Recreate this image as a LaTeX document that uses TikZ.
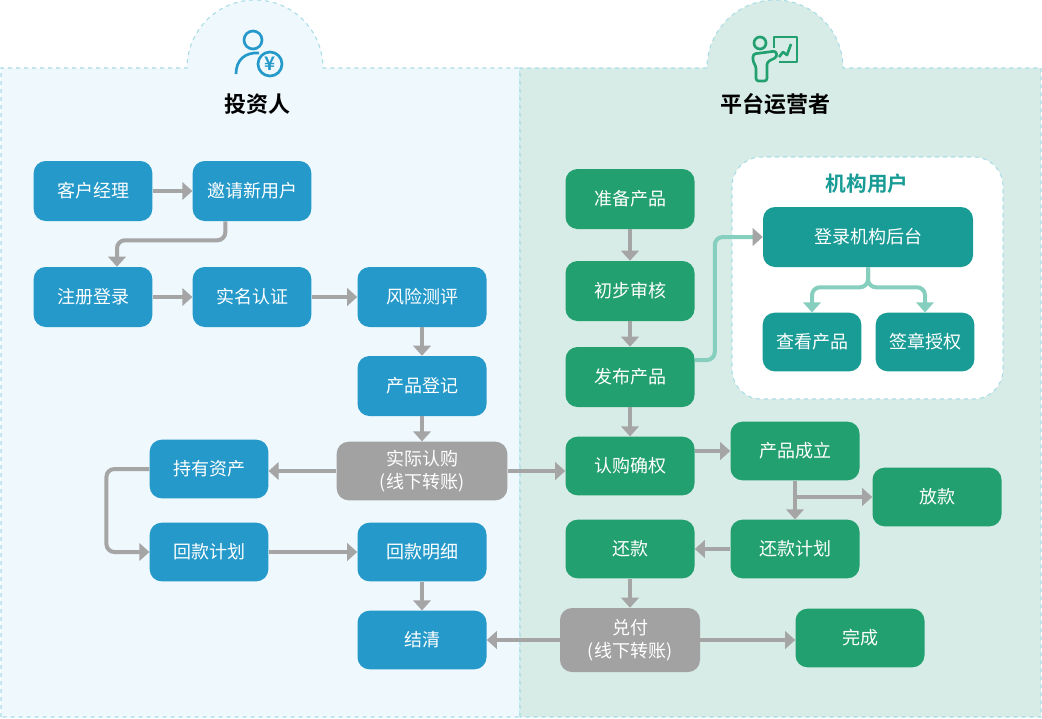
\documentclass[tikz,border=0pt]{standalone}
\usepackage{fontspec}
\setmainfont{Noto Sans CJK SC}[BoldFont=* Bold]
\usetikzlibrary{arrows.meta}
\definecolor{invblue}{HTML}{2499CA}
\definecolor{opgreen}{HTML}{23A070}
\definecolor{orgteal}{HTML}{1A9C96}
\definecolor{offgray}{HTML}{A2A2A2}
\definecolor{arrgray}{HTML}{A5A5A5}
\definecolor{linkteal}{HTML}{86CFBE}
\definecolor{leftbg}{HTML}{EEF8FD}
\definecolor{rightbg}{HTML}{D7ECE6}
\definecolor{panelline}{HTML}{A8DCE6}

\begin{document}
\begin{tikzpicture}[x=0.75pt,y=-0.75pt,
		box/.style={rounded corners=9pt, minimum height=45pt, inner sep=0pt, text=white,
			align=center, font=\fontsize{13.5}{17}\selectfont},
		bluebox/.style={box, fill=invblue, minimum width=96.75pt},
		smallblue/.style={bluebox, minimum width=89pt},
		greenbox/.style={box, fill=opgreen, minimum width=96.75pt},
		tealbox/.style={box, fill=orgteal},
		offline/.style={box, fill=offgray},
		arr/.style={draw=arrgray, line width=3pt, -{Triangle[length=7.5pt,width=13pt]}},
		tealarr/.style={draw=linkteal, line width=3pt, rounded corners=6pt,
			-{Triangle[length=7.5pt,width=13pt]}},
		heading/.style={font=\fontsize{16.5}{20}\selectfont\bfseries}]
	\useasboundingbox (0,0) rectangle (1042,718);
	% panels
	\filldraw[fill=leftbg, draw=panelline, dashed, line width=0.8pt]
		(1,717) -- (1,68) -- (187,68) arc[start angle=180, end angle=360, radius=68]
		-- (520,68) -- (520,717) -- cycle;
	\filldraw[fill=rightbg, draw=panelline, dashed, line width=0.8pt]
		(520,717) -- (520,68) -- (707,68) arc[start angle=180, end angle=360, radius=68]
		-- (1041,68) -- (1041,717) -- cycle;
	\fill[leftbg] (3,70) rectangle (518,715);
	\fill[rightbg] (522,70) rectangle (1039,715);
	\fill[leftbg] (255,68) circle[radius=66];
	\fill[rightbg] (775,68) circle[radius=66];
	\fill[leftbg] (3,70) rectangle (518,140);
	\fill[rightbg] (522,70) rectangle (1039,140);

	% investor icon
	\begin{scope}[draw=invblue, line width=2pt]
		\draw (253,40) circle[radius=9];
		\draw (236,74) .. controls (236,60) and (245,52) .. (259,53);
		\draw (270,64) circle[radius=12];
	\end{scope}
	\node[text=invblue, font=\fontsize{14}{14}\selectfont\bfseries] at (270,64) {¥};
	\node[heading] (inv) at (257,104) {投资人};

	% operator icon
	\begin{scope}[draw=opgreen, line width=2pt, line join=round]
		\draw (760,43) circle[radius=6];
		\draw (774,48) -- (774,37) -- (797,37) -- (797,62) -- (779,62);
		\draw[rounded corners=2pt] (756,81) -- (756,66) -- (753,62) -- (753,54) -- (776,51)
			-- (777,57) -- (767,62) -- (767,81) -- cycle;
		\draw (779,57) -- (783,52) -- (787,55) -- (791,44);
	\end{scope}
	\node[heading] (op) at (775,104) {平台运营者};

	% investor side
	\node[smallblue] (kh) at (93,191) {客户经理};
	\node[smallblue] (yq) at (252,191) {邀请新用户};
	\node[smallblue] (zc) at (93,297) {注册登录};
	\node[smallblue] (sm) at (252,297) {实名认证};
	\node[bluebox] (fx) at (422,297) {风险测评};
	\node[bluebox] (dj) at (422,386) {产品登记};
	\node[offline, minimum width=128pt, minimum height=44pt] (rg) at (422,471) {实际认购\\(线下转账)};
	\node[smallblue, minimum height=44pt] (cy) at (209,469) {持有资产};
	\node[smallblue, minimum height=44pt] (hkjh) at (209,552) {回款计划};
	\node[bluebox, minimum height=44pt] (hkmx) at (422,552) {回款明细};
	\node[bluebox, minimum height=44pt] (jq) at (422,640) {结清};

	% operator side
	\node[greenbox] (zb) at (630,199) {准备产品};
	\node[greenbox] (sh) at (630,291) {初步审核};
	\node[greenbox] (fb) at (630,377) {发布产品};
	\node[greenbox, minimum height=44pt] (qr) at (630,466) {认购确权};
	\node[greenbox, minimum height=44pt] (cl) at (795,451) {产品成立};
	\node[greenbox, minimum height=44pt] (fk) at (937,497) {放款};
	\node[greenbox, minimum height=44pt] (huan) at (630,549) {还款};
	\node[greenbox, minimum height=44pt] (hjh) at (795,549) {还款计划};
	\node[offline, minimum width=105pt, minimum height=48pt] (df) at (630,640) {兑付\\(线下转账)};
	\node[greenbox, minimum height=44pt] (wc) at (860,638) {完成};

	% institution users
	\filldraw[fill=white, draw=panelline, dashed, line width=0.8pt, rounded corners=22pt]
		(732,157) rectangle (1003,399);
	\node[text=orgteal, font=\fontsize{15.5}{18}\selectfont\bfseries] (jg) at (867,184) {机构用户};
	\node[tealbox, minimum width=157.5pt] (dl) at (868,237) {登录机构后台};
	\node[tealbox, minimum width=74pt, minimum height=44pt] (ck) at (812,342) {查看产品};
	\node[tealbox, minimum width=74pt, minimum height=44pt] (qz) at (925,342) {签章授权};

	% investor flow
	\draw[arr] (kh) -- (yq);
	\draw[arr, rounded corners=6pt] ([xshift=-20pt]yq.south) -- ++(0,19) -| ([xshift=18pt]zc.north);
	\draw[arr] (zc) -- (sm);
	\draw[arr] (sm) -- (fx);
	\draw[arr] (fx) -- (dj);
	\draw[arr] (dj) -- (rg);
	\draw[arr] (rg.west) -- (rg.west -| cy.east);
	\draw[arr] (rg.east) -- (rg.east -| qr.west);
	\draw[arr, rounded corners=6pt] (cy.west) -- ++(-43,0) |- (hkjh.west);
	\draw[arr] (hkjh) -- (hkmx);
	\draw[arr] (hkmx) -- (jq);

	% operator flow
	\draw[arr] (zb) -- (sh);
	\draw[arr] (sh) -- (fb);
	\draw[arr] (fb) -- (qr);
	\draw[tealarr, -{Triangle[length=7.5pt,width=13pt,color=arrgray]}]
		([yshift=12.75pt]fb.east) -- ++(20,0) |- (dl.west);
	\draw[tealarr] (dl.south) -- ++(0,20) -| (ck.north);
	\draw[tealarr] (dl.south) -- ++(0,20) -| (qz.north);
	\draw[arr] (qr.east |- cl.west) -- (cl.west);
	\draw[arr] (cl) -- (hjh);
	\draw[arr] (cl.south |- fk.west) -- (fk.west);
	\draw[arr] (hjh) -- (huan);
	\draw[arr] (huan) -- (df);
	\draw[arr] (df.west) -- (df.west -| jq.east);
	\draw[arr] (df.east) -- (df.east -| wc.west);
\end{tikzpicture}
\end{document}
